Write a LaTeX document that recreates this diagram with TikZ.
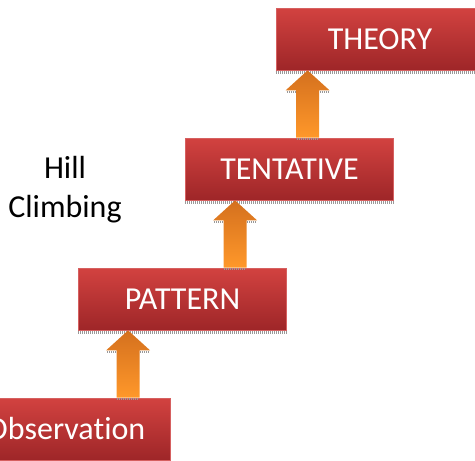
\documentclass[tikz,border=0pt]{standalone}
\usepackage{fontspec}
\setmainfont{Carlito}[Ligatures={NoCommon}]
\usetikzlibrary{calc}

\definecolor{boxtop}{RGB}{210,66,64}
\definecolor{boxbot}{RGB}{158,38,40}
\definecolor{boxrim}{RGB}{214,96,96}
\definecolor{arrtop}{RGB}{212,112,30}
\definecolor{arrbot}{RGB}{255,152,42}

\tikzset{
  stagebox/.style={rectangle, minimum width=208pt, minimum height=62pt, inner sep=0pt,
    top color=boxtop, bottom color=boxbot, draw=boxrim, line width=0.8pt,
    text=white, font=\fontsize{32}{38}\selectfont},
  plainlabel/.style={text=black, font=\fontsize{32}{38}\selectfont, inner sep=0pt},
  shadowband/.style={gray!80, line width=3pt, dash pattern=on 1.2pt off 0.8pt},
  uparrow/.style={top color=arrtop, bottom color=arrbot},
}

% block arrow: tip at the upper point, shaft standing on the lower point
\newcommand{\blockarrow}[2]{%
  \shade[uparrow] let \p1=(#1), \p2=(#2) in
    (\x1,\y1) -- (\x1+22pt,\y1-20pt) -- (\x1+11.5pt,\y1-20pt) -- (\x1+11.5pt,\y2)
    -- (\x1-11.5pt,\y2) -- (\x1-11.5pt,\y1-20pt) -- (\x1-22pt,\y1-20pt) -- cycle;
  \draw[shadowband, line width=2pt] let \p1=(#1), \p2=(#2) in
    (\x1-11pt,\y2-1pt) -- (\x1+11pt,\y2-1pt);
  \draw[shadowband, line width=2pt] let \p1=(#1) in
    (\x1-21pt,\y1-21.5pt) -- (\x1-12pt,\y1-21.5pt)
    (\x1+12pt,\y1-21.5pt) -- (\x1+21pt,\y1-21.5pt);
}

\begin{document}
\begin{tikzpicture}[x=1pt, y=-1pt]
\useasboundingbox (0,0) rectangle (475,461);
\clip (0,0) rectangle (475,461);

% stages of the climb
\node[stagebox] (theory) at (380,39) {THEORY};
\node[stagebox] (tentative) at (289.5,169) {TENTATIVE};
\node[stagebox] (pattern) at (182.5,299) {PATTERN};
\node[stagebox] (obs) at (66,429) {Observation};

% soft shadows under the boxes
\foreach \b in {theory, tentative, pattern}
  \draw[shadowband] ([yshift=-2.5pt]\b.south west) -- ([yshift=-2.5pt]\b.south east);

% side label
\node[plainlabel, anchor=base] (hill) at (65,178) {Hill};
\node[plainlabel, anchor=base] (climbing) at (65,217) {Climbing};

% steps upward
\coordinate (t1) at ([xshift=50pt]pattern.south west);
\coordinate (b1) at (obs.north);
\blockarrow{t1}{b1}
\coordinate (t2) at ([xshift=50pt]tentative.south west);
\coordinate (b2) at (pattern.north);
\blockarrow{t2}{b2}
\coordinate (t3) at ([xshift=32pt]theory.south west);
\coordinate (b3) at (tentative.north);
\blockarrow{t3}{b3}
\end{tikzpicture}
\end{document}
